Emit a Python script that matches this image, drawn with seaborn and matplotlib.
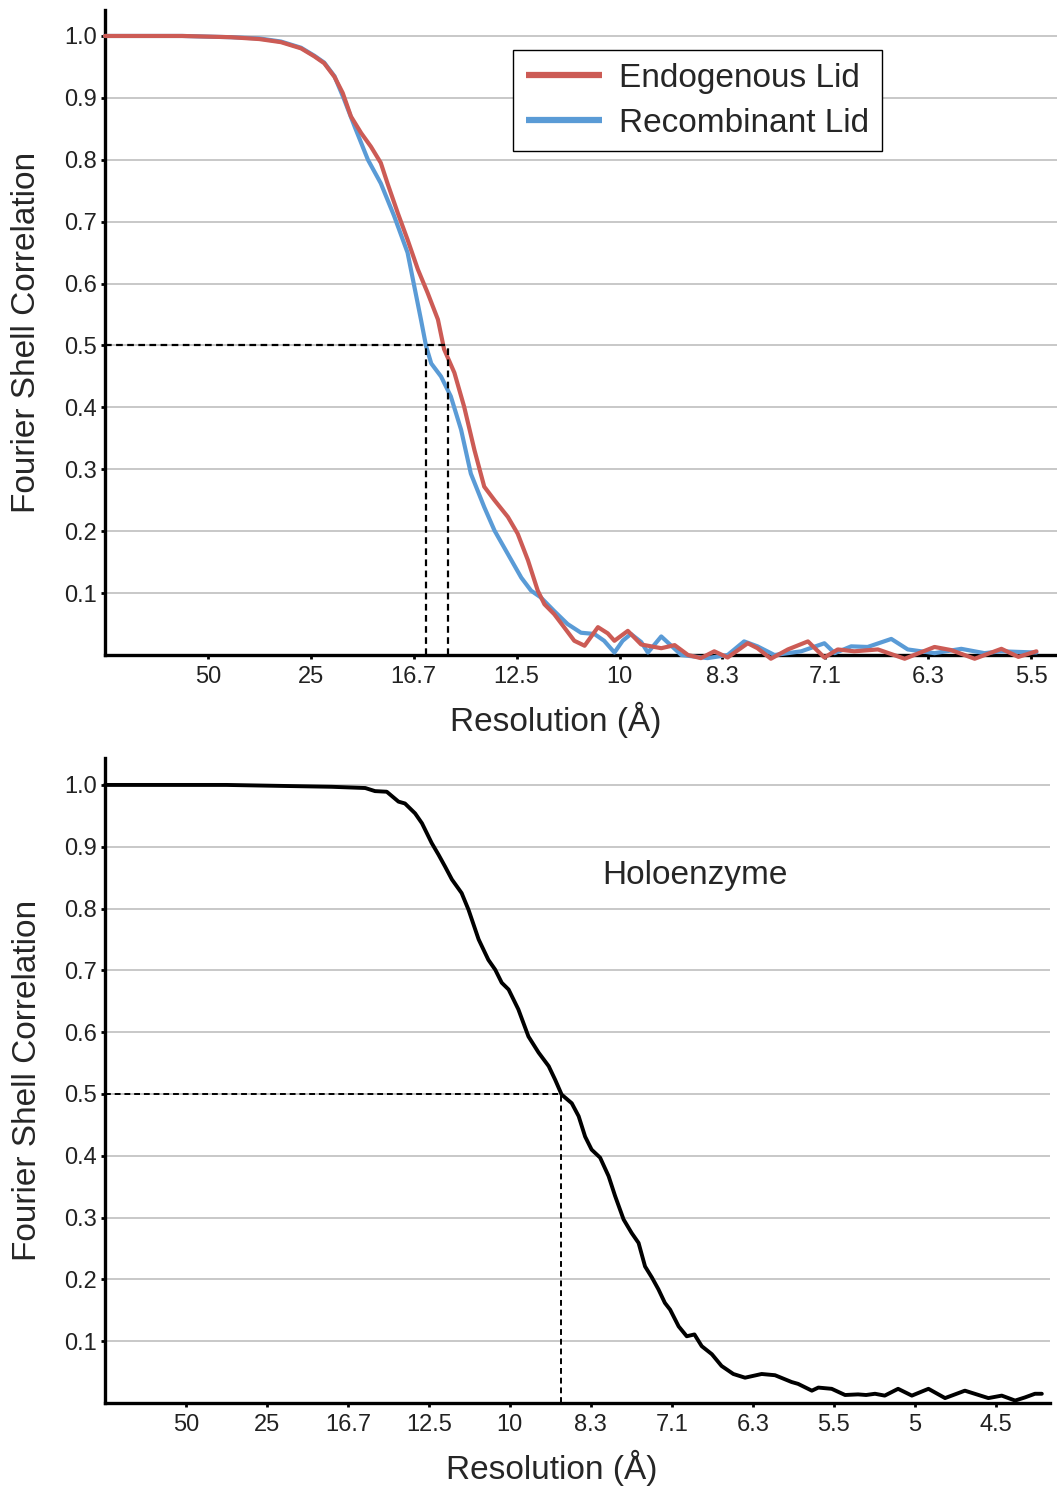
import numpy as np
import pandas as pd
import matplotlib
matplotlib.use("Agg")
import matplotlib.pyplot as plt
import seaborn as sns

# spatial frequency (1/A) and FSC values
endo_freq = [0.0, 0.015, 0.0245, 0.030, 0.0342, 0.0381, 0.0407, 0.0426, 0.0446, 0.0462,
             0.0478, 0.0498, 0.0517, 0.0536, 0.0549, 0.0569, 0.0588, 0.0608, 0.0627, 0.0647,
             0.0659, 0.0679, 0.0698, 0.0718, 0.0737, 0.0757, 0.0783, 0.0802, 0.0822, 0.0841,
             0.0854, 0.0873, 0.0893, 0.0912, 0.0932, 0.0958, 0.0977, 0.099, 0.1016, 0.1042,
             0.1081, 0.1107, 0.1133, 0.1158, 0.1184, 0.121, 0.1249, 0.1268, 0.1294, 0.1327,
             0.1366, 0.1398, 0.1424, 0.1456, 0.1502, 0.1554, 0.1612, 0.1644, 0.169, 0.1742,
             0.1775, 0.181]
endo_fsc = [1.0, 1.0, 0.998, 0.995, 0.990, 0.980, 0.967, 0.956, 0.934, 0.908,
            0.870, 0.843, 0.821, 0.795, 0.762, 0.714, 0.671, 0.623, 0.585, 0.542,
            0.494, 0.456, 0.401, 0.331, 0.272, 0.250, 0.223, 0.196, 0.153, 0.104,
            0.082, 0.066, 0.044, 0.023, 0.015, 0.045, 0.035, 0.023, 0.039, 0.017,
            0.011, 0.016, 0.0, -0.005, 0.006, -0.004, 0.019, 0.011, -0.006, 0.009,
            0.022, -0.004, 0.009, 0.006, 0.009, -0.006, 0.013, 0.008, -0.006, 0.010,
            -0.003, 0.006]

recomb_freq = [0.0, 0.015, 0.0245, 0.030, 0.0342, 0.0381, 0.0407, 0.0426, 0.0446, 0.0465,
               0.0485, 0.0511, 0.0536, 0.0562, 0.0588, 0.0601, 0.0614, 0.0624, 0.0634, 0.0653,
               0.0672, 0.0692, 0.0711, 0.0737, 0.0757, 0.0783, 0.0809, 0.0828, 0.0847, 0.0873,
               0.0899, 0.0925, 0.0951, 0.097, 0.099, 0.1006, 0.1022, 0.1042, 0.1055, 0.1081,
               0.112, 0.1171, 0.121, 0.1242, 0.1268, 0.1301, 0.1353, 0.1398, 0.1418, 0.145,
               0.1482, 0.1528, 0.156, 0.1612, 0.1664, 0.1709, 0.1742, 0.181]
recomb_fsc = [1.0, 1.0, 0.998, 0.996, 0.991, 0.981, 0.968, 0.957, 0.935, 0.897,
              0.854, 0.800, 0.762, 0.709, 0.650, 0.596, 0.542, 0.499, 0.471, 0.450,
              0.418, 0.364, 0.293, 0.239, 0.201, 0.163, 0.125, 0.104, 0.093, 0.071,
              0.050, 0.036, 0.034, 0.023, 0.004, 0.023, 0.034, 0.021, 0.004, 0.030,
              0.0, -0.005, 0.0, 0.022, 0.014, 0.0, 0.006, 0.019, 0.003, 0.014,
              0.013, 0.026, 0.009, 0.003, 0.010, 0.003, 0.006, 0.004]

holo_freq = [0.0, 0.03, 0.056, 0.0643, 0.0667, 0.0696, 0.0725, 0.0741, 0.0766, 0.0783,
             0.0807, 0.0824, 0.084, 0.0857, 0.0881, 0.0898, 0.0923, 0.0947, 0.0964, 0.098,
             0.0997, 0.1021, 0.1046, 0.1071, 0.1096, 0.1112, 0.1128, 0.1153, 0.117, 0.1186,
             0.1202, 0.1223, 0.1244, 0.126, 0.1281, 0.1301, 0.1318, 0.1334, 0.1351, 0.1367,
             0.1383, 0.1396, 0.1417, 0.1437, 0.1456, 0.1474, 0.1499, 0.1523, 0.1552, 0.1581,
             0.1622, 0.1655, 0.1696, 0.1712, 0.1746, 0.1762, 0.1795, 0.1828, 0.186, 0.188,
             0.1902, 0.1926, 0.1959, 0.1993, 0.2034, 0.2075, 0.2124, 0.2182, 0.2215, 0.2248,
             0.2272, 0.2297, 0.2314]
holo_fsc = [1.0, 1.0, 0.997, 0.995, 0.990, 0.989, 0.973, 0.970, 0.954, 0.938,
            0.906, 0.887, 0.868, 0.847, 0.825, 0.798, 0.750, 0.717, 0.701, 0.680,
            0.669, 0.637, 0.593, 0.567, 0.545, 0.523, 0.499, 0.485, 0.464, 0.431,
            0.410, 0.397, 0.367, 0.335, 0.297, 0.275, 0.259, 0.221, 0.203, 0.184,
            0.162, 0.151, 0.124, 0.108, 0.111, 0.092, 0.079, 0.060, 0.047, 0.041,
            0.047, 0.045, 0.034, 0.031, 0.020, 0.025, 0.023, 0.013, 0.014, 0.013,
            0.015, 0.012, 0.023, 0.012, 0.023, 0.008, 0.020, 0.008, 0.012, 0.004,
            0.009, 0.015, 0.015]

fsc_threshold = 0.5
endo_cutoff = 0.0667
recomb_cutoff = 0.0624
holo_cutoff = 0.1126

top_ticks = [0.02, 0.04, 0.06, 0.08, 0.10, 0.12, 0.14, 0.16, 0.18]
top_labels = ["50", "25", "16.7", "12.5", "10", "8.3", "7.1", "6.3", "5.5"]
bot_ticks = [0.02, 0.04, 0.06, 0.08, 0.10, 0.12, 0.14, 0.16, 0.18, 0.20, 0.22]
bot_labels = ["50", "25", "16.7", "12.5", "10", "8.3", "7.1", "6.3", "5.5", "5", "4.5"]
y_ticks = [0.1, 0.2, 0.3, 0.4, 0.5, 0.6, 0.7, 0.8, 0.9, 1.0]

sns.set_style("white")
plt.rcParams["font.family"] = ["Liberation Sans", "DejaVu Sans"]

top_df = pd.concat([
    pd.DataFrame({"freq": endo_freq, "fsc": endo_fsc, "sample": "Endogenous Lid"}),
    pd.DataFrame({"freq": recomb_freq, "fsc": recomb_fsc, "sample": "Recombinant Lid"}),
])
holo_df = pd.DataFrame({"freq": holo_freq, "fsc": holo_fsc})

fig = plt.figure(figsize=(10.57, 14.88), dpi=100)
ax1 = fig.add_axes([0.0993, 0.5598, 0.9007, 0.4335])
ax2 = fig.add_axes([0.0993, 0.0571, 0.8940, 0.4335])


def style_axes(ax, xmax, ymax, ticks, labels):
    ax.set_xlim(0, xmax)
    ax.set_ylim(0, ymax)
    ax.set_xticks(ticks)
    ax.set_xticklabels(labels)
    ax.set_yticks(y_ticks)
    ax.set_yticklabels([f"{v:.1f}" for v in y_ticks])
    ax.yaxis.grid(True, color="#c4c4c4", linewidth=1.3)
    ax.xaxis.grid(False)
    ax.set_axisbelow(True)
    for s in ["top", "right"]:
        ax.spines[s].set_visible(False)
    for s in ["left", "bottom"]:
        ax.spines[s].set_color("black")
        ax.spines[s].set_linewidth(2.4)
        ax.spines[s].set_zorder(3)
    ax.tick_params(axis="both", which="major", direction="out", length=3, width=2,
                   color="black", labelsize=17, labelcolor="#222222", pad=3,
                   bottom=True, left=True)
    ax.tick_params(axis="x", pad=5)
    ax.set_xlabel("Resolution (Å)", fontsize=24)
    ax.set_ylabel("Fourier Shell Correlation", fontsize=24)
    ax.xaxis.set_label_coords(0.473, -0.072)
    ax.yaxis.set_label_coords(-0.066, 0.5)


# blue first so the red curve sits on top, as in the original
sns.lineplot(data=top_df, x="freq", y="fsc", hue="sample",
             hue_order=["Recombinant Lid", "Endogenous Lid"],
             palette=["#5a9bd6", "#cc5b55"], estimator=None, sort=False,
             linewidth=3.0, ax=ax1, clip_on=False, zorder=4,
             solid_joinstyle="round", solid_capstyle="round")
style_axes(ax1, 0.185, 1.042, top_ticks, top_labels)
ax1.hlines(fsc_threshold, 0, endo_cutoff, colors="black", linestyles=(0, (3, 2)), linewidth=1.6, zorder=5)
ax1.vlines([recomb_cutoff, endo_cutoff], 0, fsc_threshold, colors="black",
           linestyles=(0, (3, 2)), linewidth=1.6, zorder=5)
handles, labels = ax1.get_legend_handles_labels()
leg = ax1.legend(handles[::-1], labels[::-1], loc="upper left", bbox_to_anchor=(0.4286, 0.938),
                 borderaxespad=0, fontsize=24, frameon=True, fancybox=False,
                 edgecolor="black", framealpha=1, handlelength=2.3, handletextpad=0.5,
                 borderpad=0.38, labelspacing=0.42)
leg.get_frame().set_linewidth(1.0)
for line in leg.get_lines():
    line.set_linewidth(4.5)
    line.set_solid_capstyle("butt")

sns.lineplot(data=holo_df, x="freq", y="fsc", color="black", estimator=None, sort=False,
             linewidth=2.8, ax=ax2, clip_on=False, zorder=4,
             solid_joinstyle="round", solid_capstyle="round")
style_axes(ax2, 0.2334, 1.0436, bot_ticks, bot_labels)
ax2.hlines(fsc_threshold, 0, holo_cutoff, colors="black", linestyles=(0, (3, 2)), linewidth=1.4, zorder=5)
ax2.vlines(holo_cutoff, 0, fsc_threshold, colors="black", linestyles=(0, (3, 2)), linewidth=1.4, zorder=5)
ax2.text(0.1457, 0.853, "Holoenzyme", fontsize=24, ha="center", va="center")

fig.savefig("out.png", dpi=100)
